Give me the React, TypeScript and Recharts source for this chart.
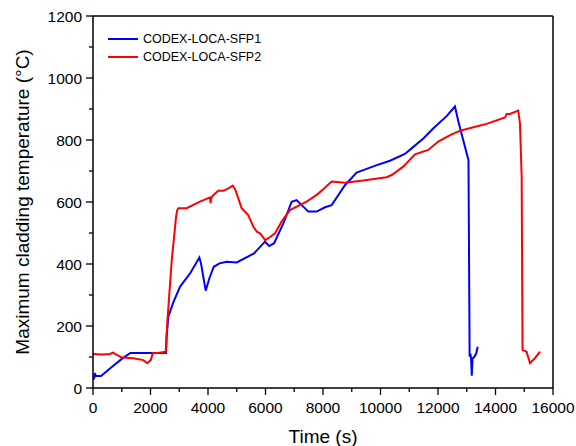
import { LineChart, Line, XAxis, YAxis, Legend } from 'recharts';

const FONT = 'Arial, "Liberation Sans", sans-serif';

// CODEX-LOCA-SFP1: time (s) / max cladding temperature (°C)
const sfp1Time = [0, 40, 60, 100, 280, 600, 1000, 1300, 2000, 2540, 2560, 2620, 2800, 3030, 3380, 3700, 3760, 3920, 4050, 4200, 4400, 4650, 5000, 5600, 5980, 6130, 6300, 6620, 6910, 7080, 7260, 7490, 7780, 8070, 8300, 8770, 9170, 9400, 9870, 10330, 10850, 11080, 11490, 11840, 12300, 12590, 12710, 13060, 13100, 13130, 13150, 13175, 13200, 13260, 13330, 13380];
const sfp1Temp = [30, 31, 48, 39, 39, 64, 94, 113, 113, 113, 165, 230, 278, 327, 370, 421, 400, 314, 355, 391, 402, 407, 405, 434, 472, 458, 467, 531, 601, 606, 590, 569, 569, 583, 590, 655, 695, 703, 719, 733, 755, 773, 805, 838, 877, 908, 859, 735, 101, 110, 95, 40, 95, 100, 112, 133];

// CODEX-LOCA-SFP2
const sfp2Time = [0, 300, 590, 690, 1000, 1400, 1750, 1890, 2010, 2080, 2300, 2530, 2590, 2740, 2890, 2930, 2970, 3260, 3720, 4070, 4090, 4110, 4190, 4360, 4530, 4710, 4860, 4950, 5060, 5170, 5400, 5580, 5700, 5810, 5990, 6160, 6330, 6560, 6850, 7430, 7780, 8010, 8300, 8770, 9400, 10210, 10390, 10790, 11200, 11660, 12010, 12420, 12770, 13230, 13690, 14330, 14390, 14500, 14790, 14850, 14910, 14940, 15080, 15200, 15370, 15550];
const sfp2Temp = [110, 108, 110, 114, 98, 96, 90, 80, 90, 112, 114, 117, 219, 413, 553, 574, 580, 580, 601, 615, 596, 612, 623, 636, 636, 644, 653, 640, 610, 580, 558, 520, 504, 499, 477, 487, 499, 537, 574, 601, 623, 641, 666, 662, 669, 680, 687, 714, 754, 768, 795, 816, 830, 841, 852, 873, 884, 884, 895, 854, 682, 123, 117, 80, 96, 117];

const xTicks = [0, 1000, 2000, 3000, 4000, 5000, 6000, 7000, 8000, 9000, 10000, 11000, 12000, 13000, 14000, 15000, 16000];
const yTicks = [0, 100, 200, 300, 400, 500, 600, 700, 800, 900, 1000, 1100, 1200];

const sfp1 = sfp1Time.map((t, i) => ({ t, temp: sfp1Temp[i] }));
const sfp2 = sfp2Time.map((t, i) => ({ t, temp: sfp2Temp[i] }));

// major ticks get a label, minor ticks only a short mark
const XTick = ({ x, y, payload }: any) => {
  const major = payload.value % 2000 === 0;
  return (
    <g>
      <line x1={x} x2={x} y1={y} y2={y + (major ? 7 : 4)} stroke="#000" strokeWidth={1.3} />
      {major && (
        <text x={x} y={y + 25} textAnchor="middle" fontSize={15.5} fontFamily={FONT} fill="#000">
          {payload.value}
        </text>
      )}
    </g>
  );
};

const YTick = ({ x, y, payload }: any) => {
  const major = payload.value % 200 === 0;
  return (
    <g>
      <line x1={x - (major ? 7 : 4)} x2={x} y1={y} y2={y} stroke="#000" strokeWidth={1.3} />
      {major && (
        <text x={x - 11} y={y} dy="0.36em" textAnchor="end" fontSize={15.5} fontFamily={FONT} fill="#000">
          {payload.value}
        </text>
      )}
    </g>
  );
};

const LegendBox = ({ payload }: any) => (
  <div style={{ fontFamily: FONT, fontSize: 12.5, color: '#000' }}>
    {(payload || []).map((p: any) => (
      <div key={p.value} style={{ display: 'flex', alignItems: 'center', height: 18 }}>
        <svg width={30} height={4}>
          <line x1={0} x2={30} y1={2} y2={2} stroke={p.color} strokeWidth={2} />
        </svg>
        <span style={{ marginLeft: 5 }}>{p.value}</span>
      </div>
    ))}
  </div>
);

export default function App() {
  return (
    <div style={{ position: 'absolute', left: 0, top: 0, background: '#fff' }}>
      <LineChart width={576} height={446} margin={{ top: 15, right: 22, bottom: 0, left: 0 }} style={{ fontFamily: FONT }}>
        <XAxis
          dataKey="t"
          type="number"
          domain={[0, 16000]}
          ticks={xTicks}
          interval={0}
          tickSize={0}
          tickMargin={0}
          tickLine={false}
          tick={(p: any) => <XTick {...p} />}
          axisLine={{ stroke: '#000', strokeWidth: 1.5 }}
          height={58}
          label={{ value: 'Time (s)', position: 'insideBottom', offset: 3.5, style: { fontSize: 19, fill: '#000', fontFamily: FONT } }}
        />
        <XAxis xAxisId="top" orientation="top" type="number" domain={[0, 16000]} height={1} tick={false} tickLine={false} axisLine={{ stroke: '#000', strokeWidth: 1.5 }} />
        <YAxis
          type="number"
          domain={[0, 1200]}
          ticks={yTicks}
          interval={0}
          tickSize={0}
          tickMargin={0}
          tickLine={false}
          tick={(p: any) => <YTick {...p} />}
          axisLine={{ stroke: '#000', strokeWidth: 1.5 }}
          width={93}
          label={{ value: 'Maximum cladding temperature (°C)', angle: -90, position: 'insideLeft', offset: 22, style: { textAnchor: 'middle', fontSize: 19, fill: '#000', fontFamily: FONT } }}
        />
        <YAxis yAxisId="right" orientation="right" type="number" domain={[0, 1200]} width={1} tick={false} tickLine={false} axisLine={{ stroke: '#000', strokeWidth: 1.5 }} />
        <Legend
          layout="vertical"
          align="center"
          verticalAlign="middle"
          content={(p: any) => <LegendBox {...p} />}
          wrapperStyle={{ left: 108, top: 30, width: 200 }}
        />
        <Line data={sfp1} dataKey="temp" name="CODEX-LOCA-SFP1" type="linear" stroke="#0000ff" strokeWidth={2} dot={false} isAnimationActive={false} />
        <Line data={sfp2} dataKey="temp" name="CODEX-LOCA-SFP2" type="linear" stroke="#ff0000" strokeWidth={2} dot={false} isAnimationActive={false} />
      </LineChart>
    </div>
  );
}
